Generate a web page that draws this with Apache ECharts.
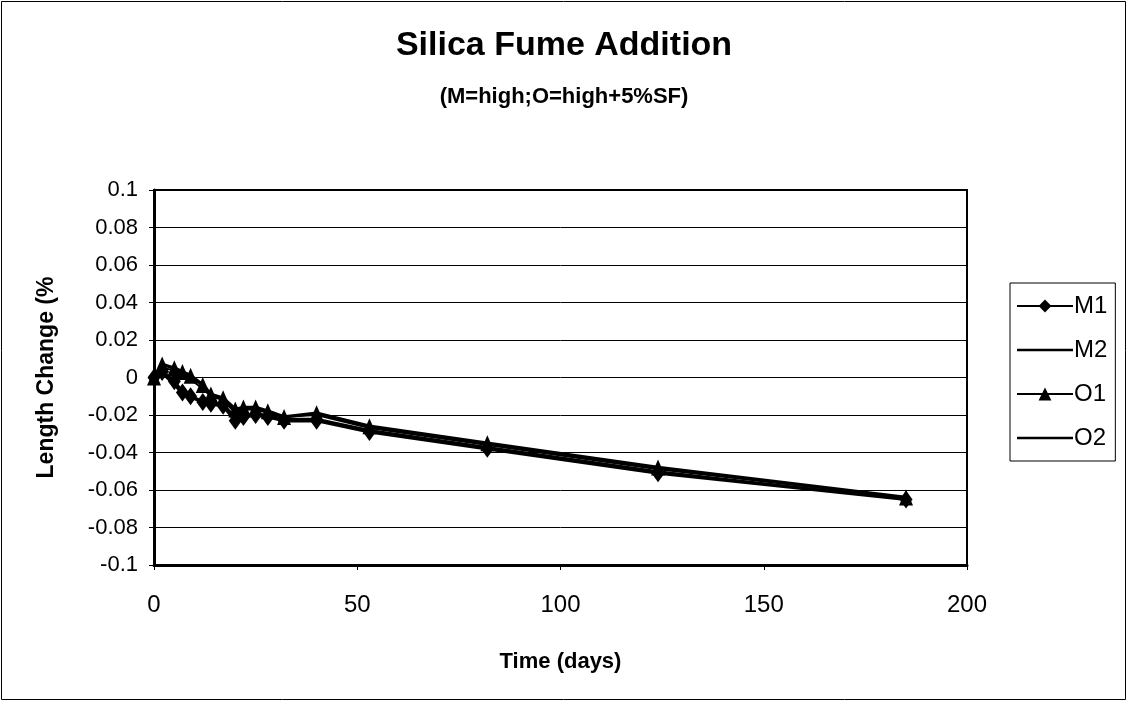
<!DOCTYPE html>
<html>
<head>
<meta charset="utf-8">
<script src="https://cdn.jsdelivr.net/npm/echarts@6/dist/echarts.min.js"></script>
<style>
html, body { margin: 0; padding: 0; background: #fff; }
#chart { width: 1128px; height: 708px; }
</style>
</head>
<body>
<div id="chart"></div>
<script>
// time in days, shared by all four specimens
var days = [0, 2, 5, 7, 9, 12, 14, 17, 20, 22, 25, 28, 32, 40, 53, 82, 124, 185];

// length change (%)
var m1 = [0, 0.003, -0.002, -0.008, -0.010, -0.013, -0.014, -0.015, -0.023, -0.021, -0.020, -0.021, -0.023, -0.023, -0.029, -0.038, -0.051, -0.065];
var m2 = [0, 0.002, -0.004, -0.009, -0.011, -0.013, -0.013, -0.014, -0.021, -0.020, -0.019, -0.020, -0.022, -0.022, -0.028, -0.037, -0.050, -0.065];
var o1 = [0, 0.007, 0.005, 0.003, 0.001, -0.004, -0.009, -0.011, -0.017, -0.016, -0.016, -0.018, -0.021, -0.019, -0.026, -0.035, -0.048, -0.064];
var o2 = [0, 0.005, 0.004, 0.002, -0.001, -0.006, -0.010, -0.012, -0.019, -0.017, -0.017, -0.019, -0.021, -0.020, -0.027, -0.036, -0.049, -0.064];

function pairs(ys) {
	var out = [];
	for (var i = 0; i < days.length; i++) out.push([days[i], ys[i]]);
	return out;
}

var font = '"Liberation Sans", Arial, sans-serif';
var plainLine = 'path://M0,0 L56,0 L56,2.4 L0,2.4 Z';

var chart = echarts.init(document.getElementById('chart'));
chart.setOption({
	backgroundColor: '#fff',
	animation: false,
	title: [{
		text: 'Silica Fume Addition',
		left: 'center', top: 24,
		textStyle: { fontFamily: font, fontSize: 34, fontWeight: 'bold', color: '#000' }
	}, {
		text: '(M=high;O=high+5%SF)',
		left: 'center', top: 81,
		textStyle: { fontFamily: font, fontSize: 22, fontWeight: 'bold', color: '#000' }
	}],
	legend: {
		orient: 'vertical',
		left: 1010, top: 283,
		data: [
			{ name: 'M1' },
			{ name: 'M2', icon: plainLine },
			{ name: 'O1' },
			{ name: 'O2', icon: plainLine }
		],
		itemWidth: 56, itemHeight: 16,
		itemGap: 20,
		padding: [11, 8, 11, 6],
		borderColor: '#000', borderWidth: 1,
		textStyle: { fontFamily: font, fontSize: 24, color: '#000', padding: [0, 0, 0, -4] }
	},
	grid: {
		left: 154, top: 190, width: 813, height: 375,
		show: true, borderColor: '#000', borderWidth: 2
	},
	xAxis: {
		type: 'value', min: 0, max: 200, interval: 50,
		name: 'Time (days)', nameLocation: 'middle', nameGap: 86,
		nameTextStyle: { fontFamily: font, fontSize: 22, fontWeight: 'bold', color: '#000' },
		axisLine: { onZero: false, lineStyle: { color: '#000', width: 3 } },
		axisTick: { show: true, length: 5, lineStyle: { color: '#000' } },
		axisLabel: { fontFamily: font, fontSize: 24, color: '#000', margin: 28 },
		splitLine: { show: false }
	},
	yAxis: {
		type: 'value', min: -0.1, max: 0.1, interval: 0.02,
		name: 'Length Change (%', nameLocation: 'middle', nameGap: 96,
		nameTextStyle: { fontFamily: font, fontSize: 23, fontWeight: 'bold', color: '#000' },
		axisLine: { onZero: false, lineStyle: { color: '#000', width: 3 } },
		axisTick: { show: true, length: 5, lineStyle: { color: '#000' } },
		axisLabel: {
			fontFamily: font, fontSize: 22, color: '#000', margin: 16,
			formatter: function (v) { return String(+v.toFixed(2)); }
		},
		splitLine: { show: true, lineStyle: { color: '#000', width: 1 } }
	},
	series: [{
		name: 'M1', type: 'line', data: pairs(m1),
		symbol: 'diamond', symbolSize: [13, 18], color: '#000',
		lineStyle: { color: '#000', width: 3.5 },
		itemStyle: { color: '#000', borderWidth: 0 }
	}, {
		name: 'M2', type: 'line', data: pairs(m2),
		symbol: 'none', color: '#000',
		lineStyle: { color: '#000', width: 2 },
		itemStyle: { color: '#000' }
	}, {
		name: 'O1', type: 'line', data: pairs(o1),
		symbol: 'triangle', symbolSize: [14, 16], color: '#000',
		lineStyle: { color: '#000', width: 3.5 },
		itemStyle: { color: '#000', borderWidth: 0 }
	}, {
		name: 'O2', type: 'line', data: pairs(o2),
		symbol: 'none', color: '#000',
		lineStyle: { color: '#000', width: 2 },
		itemStyle: { color: '#000' }
	}],
	graphic: [{
		type: 'rect', silent: true,
		shape: { x: 1.5, y: 1.5, width: 1124, height: 698 },
		style: { fill: 'none', stroke: '#000', lineWidth: 1 }
	}]
});
</script>
</body>
</html>
